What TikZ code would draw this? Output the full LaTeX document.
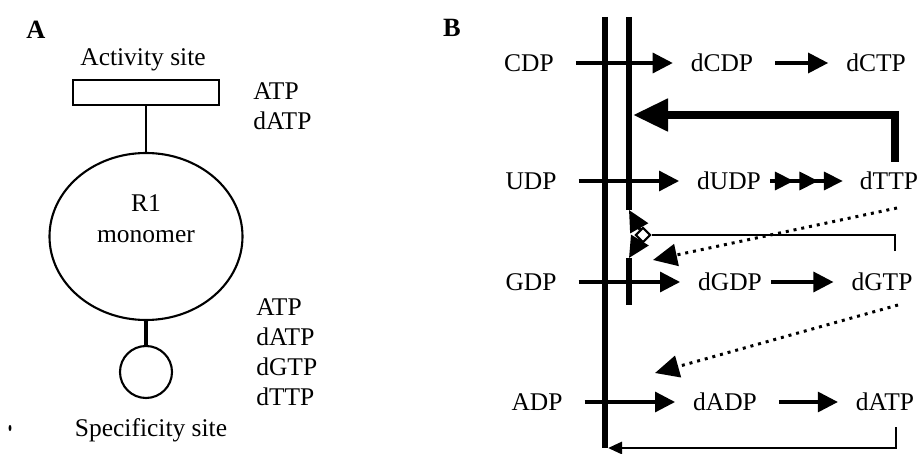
\documentclass[tikz,border=0pt]{standalone}
\usepackage{fontspec}
\setmainfont{Liberation Serif}
\usepackage{tikz}
\usetikzlibrary{arrows.meta, shapes.geometric, positioning}

\tikzset{
  met/.style={inner sep=1pt},
  lig/.style={inner sep=0pt, anchor=west, align=left},
  site/.style={line width=3.4pt},
  conv/.style={line width=1.8pt, -{Triangle[length=4mm,width=4mm]},
    shorten <=4mm, shorten >=3.2mm},
  allo/.style={line width=1.8pt, -{Triangle[length=4.2mm,width=4mm]}},
  inhib/.style={line width=4.5pt, -{Triangle[length=7mm,width=6.2mm]}},
  fb/.style={line width=1.6pt},
  dotarr/.style={line width=1.7pt, dash pattern=on 1.7pt off 2.8pt,
    -{Triangle[length=4.8mm,width=4.4mm]}}
}

\begin{document}
\begin{tikzpicture}[font=\fontsize{14.5}{17}\selectfont]
  \useasboundingbox (0,0) rectangle (18.36,9.06);

  % Partie A : le monomere R1
  \node[font=\fontsize{15}{17}\bfseries] (lblA) at (0.72,8.46) {A};
  \node (actlbl) at (2.86,7.86) {Activity site};
  \node[draw, line width=1.2pt, minimum width=2.92cm, minimum height=0.5cm] (actsite) at (2.92,7.21) {};
  \node[draw, ellipse, line width=1.2pt, minimum width=3.86cm, minimum height=3.34cm] (mono) at (2.92,4.33) {};
  \node[align=center, font=\fontsize{14.5}{17.6}\selectfont] (monolbl) at (2.92,4.69) {R1\\monomer};
  \node[draw, circle, line width=1.2pt, minimum size=1.04cm] (spec) at (2.92,1.62) {};
  \node (speclbl) at (3.02,0.46) {Specificity site};
  \draw[line width=1.2pt] (actsite) -- (mono);
  \draw[line width=2pt] (mono) -- (spec);
  \fill (0.2,0.5) ellipse (0.03 and 0.06);

  % Les effecteurs
  \node[lig] (actlig) at (5.06,6.94) {ATP\\dATP};
  \node[lig] (speclig) at (5.12,2.01) {ATP\\dATP\\dGTP\\dTTP};

  % Partie B : les reductions
  \node[font=\fontsize{15}{17}\bfseries] (lblB) at (9.04,8.5) {B};

  \node[met] (cdp) at (10.58,7.8) {CDP};
  \node[met] (dcdp) at (14.44,7.8) {dCDP};
  \node[met] (dctp) at (17.52,7.8) {dCTP};
  \node[met] (udp) at (10.62,5.44) {UDP};
  \node[met] (dudp) at (14.58,5.44) {dUDP};
  \node[met] (dttp) at (17.78,5.44) {dTTP};
  \node[met] (gdp) at (10.62,3.42) {GDP};
  \node[met] (dgdp) at (14.6,3.42) {dGDP};
  \node[met] (dgtp) at (17.64,3.42) {dGTP};
  \node[met] (adp) at (10.74,1.02) {ADP};
  \node[met] (dadp) at (14.5,1.02) {dADP};
  \node[met] (datp) at (17.7,1.02) {dATP};

  % Les deux traits verticaux
  \coordinate (otop) at (12.1,8.72);
  \coordinate (obot) at (12.1,0.1);
  \coordinate (itop) at (12.58,8.72);
  \coordinate (iend) at (12.58,4.86);
  \coordinate (ilow) at (12.58,3.9);
  \coordinate (ibase) at (12.58,2.96);
  \draw[site] (otop) -- (obot);
  \draw[site] (itop) -- (iend);
  \draw[site] (ilow) -- (ibase);

  % Le losange et ses fleches
  \node[diamond, draw, line width=1.2pt, fill=white, minimum width=0.3cm, minimum height=0.3cm, inner sep=0pt] (switch) at (12.86,4.36) {};
  \draw[allo] (switch) -- (iend);
  \draw[allo] (switch) -- (ilow);

  % Fleches de reaction
  \draw[conv] (cdp) -- (dcdp);
  \draw[conv] (udp) -- (dudp);
  \draw[conv] (gdp) -- (dgdp);
  \draw[conv] (adp) -- (dadp);
  \draw[conv] (dcdp) -- (dctp);
  \draw[conv, shorten <=1.5mm] (dgdp) -- (dgtp);
  \draw[conv] (dadp) -- (datp);
  \draw[line width=1.8pt, shorten <=1.5mm, shorten >=3mm,
    -{Triangle[length=3.8mm,width=3.6mm,sep=1.1mm]Triangle[length=3.8mm,width=3.6mm,sep=1.1mm]Triangle[length=3.8mm,width=3.6mm]}]
    (dudp) -- (dttp);

  % Retroactions
  \coordinate (ttpup) at (17.9,5.82);
  \coordinate (ttpin) at (12.66,6.76);
  \draw[inhib] (ttpup) |- (ttpin);
  \coordinate (gtpup) at (17.9,4.04);
  \draw[fb] (gtpup) |- (switch);
  \coordinate (atpdn) at (17.92,0.52);
  \coordinate (atpin) at (12.16,0.1);
  \draw[fb, -{Triangle[length=2.8mm,width=2.4mm]}] (atpdn) |- (atpin);

  % Les fleches en pointille
  \coordinate (ttpdot) at (17.94,4.9);
  \coordinate (gdpdot) at (13.06,3.86);
  \draw[dotarr] (ttpdot) -- (gdpdot);
  \coordinate (gtpdot) at (17.96,2.96);
  \coordinate (adpdot) at (13.1,1.6);
  \draw[dotarr] (gtpdot) -- (adpdot);
\end{tikzpicture}
\end{document}
